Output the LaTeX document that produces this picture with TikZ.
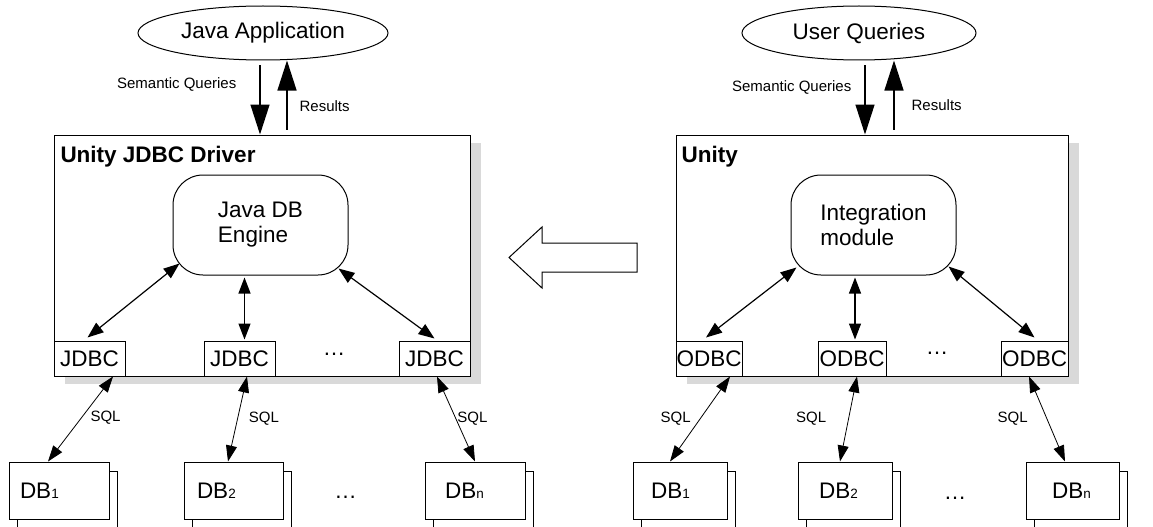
\documentclass[tikz,border=0pt]{standalone}
\usepackage{fontspec}
\setmainfont{Liberation Sans}
\usetikzlibrary{arrows.meta, positioning, shapes.geometric, shadows}

\newcommand{\dbsub}[1]{{\fontsize{13.5}{14}\selectfont #1}}

\begin{document}
\begin{tikzpicture}[
        x = 1pt, y = -1pt,
        font = \fontsize{22.5}{25}\selectfont,
        line width = 1pt,
        app/.style = {draw, ellipse, minimum width = #1, minimum height = 54pt, inner sep = 0pt},
        driver/.style = {draw, fill = white, minimum width = #1, minimum height = 241pt, inner sep = 0pt,
            drop shadow = {shadow xshift = 11pt, shadow yshift = -8pt, fill = black!15, opacity = 1}},
        boxtitle/.style = {font = \fontsize{22.5}{25}\selectfont\bfseries, anchor = base west, inner sep = 0pt},
        engine/.style = {draw, rounded corners = 30pt, minimum width = #1, minimum height = 100pt, align = left, inner sep = 0pt},
        conn/.style = {draw, fill = white, minimum width = #1, minimum height = 35pt, inner sep = 0pt},
        db/.style 2 args = {draw, fill = white, minimum height = 57pt, inner ysep = 0pt, inner xsep = #1, text width = #2, align = left,
            copy shadow = {shadow xshift = 8pt, shadow yshift = -9pt, line width = 1pt}},
        lbl/.style = {font = \fontsize{15}{18}\selectfont, inner sep = 0pt},
        etc/.style = {anchor = base, inner sep = 0pt},
        flow/.style = {-{Triangle[length = 30pt, width = 19pt]}, line width = 1.3pt},
        link/.style = {{Triangle[length = 16pt, width = 12pt]}-{Triangle[length = 16pt, width = 12pt]}, line width = 1.2pt},
        sql/.style = {{Triangle[length = 16pt, width = 11pt]}-{Triangle[length = 16pt, width = 11pt]}, line width = .8pt}
    ]
    \useasboundingbox (0,0) rectangle (1153,527);

    % JDBC driver (left)
    \node[app = 250pt] (japp) at (263,33) {Java Application};
    \node[driver = 416pt] (jdrv) at (262,255.5) {};
    \node[boxtitle] (jtitle) at (60,162) {Unity JDBC Driver};
    \node[engine = 175pt] (jeng) at (260.5,225) {Java DB\\Engine};
    \node[conn = 71pt] (jc1) at (89.5,358.5) {JDBC};
    \node[conn = 71pt] (jc2) at (239.5,358.5) {JDBC};
    \node[conn = 71pt] (jc3) at (434.5,358.5) {JDBC};
    \node[etc] (jcdots) at (334,355) {\dots};
    \node[db = {11pt}{78pt}] (jdb1) at (59,490.5) {DB\dbsub{1}};
    \node[db = {13pt}{73pt}] (jdb2) at (233.5,490.5) {DB\dbsub{2}};
    \node[db = {20pt}{60pt}] (jdbn) at (475,490.5) {DB\dbsub{n}};
    \node[etc] (jdbdots) at (345.5,498) {\dots};

    \draw[flow, shorten <= 5pt] ([xshift = -3pt]japp.south) -- ([xshift = -3pt]japp.south |- jdrv.north)
        node[lbl, pos = .33, left = 23pt] (jsq) {Semantic Queries};
    \draw[flow, shorten <= 5pt] ([xshift = 24pt]japp.south |- jdrv.north) -- ([xshift = 24pt]japp.south)
        node[lbl, pos = .39, right = 12pt] (jres) {Results};

    \draw[link] ([xshift = 7pt, yshift = 12pt]jeng.south west) -- ([xshift = -2pt, yshift = 3pt]jc1.north);
    \draw[link, shorten <= 2pt, shorten >= 1pt] ([xshift = 5pt]jc2.north |- jeng.south) -- ([xshift = 5pt]jc2.north);
    \draw[link] ([xshift = -10pt, yshift = 7pt]jeng.south east) -- ([yshift = 2pt]jc3.north);

    \draw[sql] ([xshift = 23.5pt]jc1.south) -- ([xshift = -11pt]jdb1.north) node[lbl, pos = .49, right = 9pt] (jsql1) {SQL};
    \draw[sql] ([xshift = 7.5pt]jc2.south) -- ([xshift = -5.5pt]jdb2.north) node[lbl, pos = .5, right = 11pt] (jsql2) {SQL};
    \draw[sql] ([xshift = 2.5pt]jc3.south) -- (jdbn.north) node[lbl, pos = .5, right = 1pt] (jsql3) {SQL};

    % conversion arrow
    \draw (509,257.5) -- (542,227) -- (542,243) -- (637,243) -- (637,272) -- (542,272) -- (542,288) -- cycle;

    % Unity (right)
    \node[app = 234pt] (uq) at (859,33) {User Queries};
    \node[driver = 392pt] (udrv) at (872,255.5) {};
    \node[boxtitle] (utitle) at (681,162) {Unity};
    \node[engine = 165pt] (ueng) at (873.5,225) {Integration\\module};
    \node[conn = 66pt] (oc1) at (709,358.5) {ODBC};
    \node[conn = 68pt] (oc2) at (852,358.5) {ODBC};
    \node[conn = 67pt] (oc3) at (1034.5,358.5) {ODBC};
    \node[etc] (ocdots) at (937,354) {\dots};
    \node[db = {18pt}{58pt}] (udb1) at (680,490.5) {DB\dbsub{1}};
    \node[db = {21pt}{52pt}] (udb2) at (845,490.5) {DB\dbsub{2}};
    \node[db = {26pt}{41pt}] (udbn) at (1072.5,490.5) {DB\dbsub{n}};
    \node[etc] (udbdots) at (955,499) {\dots};

    \draw[flow, shorten <= 5pt] ([xshift = 6pt]uq.south) -- ([xshift = 6pt]uq.south |- udrv.north)
        node[lbl, pos = .37, left = 13pt] (usq) {Semantic Queries};
    \draw[flow, shorten <= 5pt] ([xshift = 35pt]uq.south |- udrv.north) -- ([xshift = 35pt]uq.south)
        node[lbl, pos = .4, right = 17pt] (ures) {Results};

    \draw[link] ([xshift = 6pt, yshift = 8pt]ueng.south west) -- ([xshift = -3pt, yshift = 3pt]oc1.north);
    \draw[link, shorten <= 2pt, shorten >= 1pt] ([xshift = 3pt]oc2.north |- ueng.south) -- ([xshift = 3pt]oc2.north);
    \draw[link] ([xshift = -8pt, yshift = 9pt]ueng.south east) -- ([yshift = 3pt]oc3.north);

    \draw[sql] ([xshift = 21pt]oc1.south) -- ([xshift = -10pt]udb1.north) node[lbl, pos = .5, left = 9pt] (usql1) {SQL};
    \draw[sql] ([xshift = 5pt]oc2.south) -- ([xshift = -5pt]udb2.north) node[lbl, pos = .5, left = 22pt] (usql2) {SQL};
    \draw[sql] ([xshift = -5.5pt]oc3.south) -- ([xshift = -7.5pt]udbn.north) node[lbl, pos = .5, left = 19pt] (usql3) {SQL};
\end{tikzpicture}
\end{document}
